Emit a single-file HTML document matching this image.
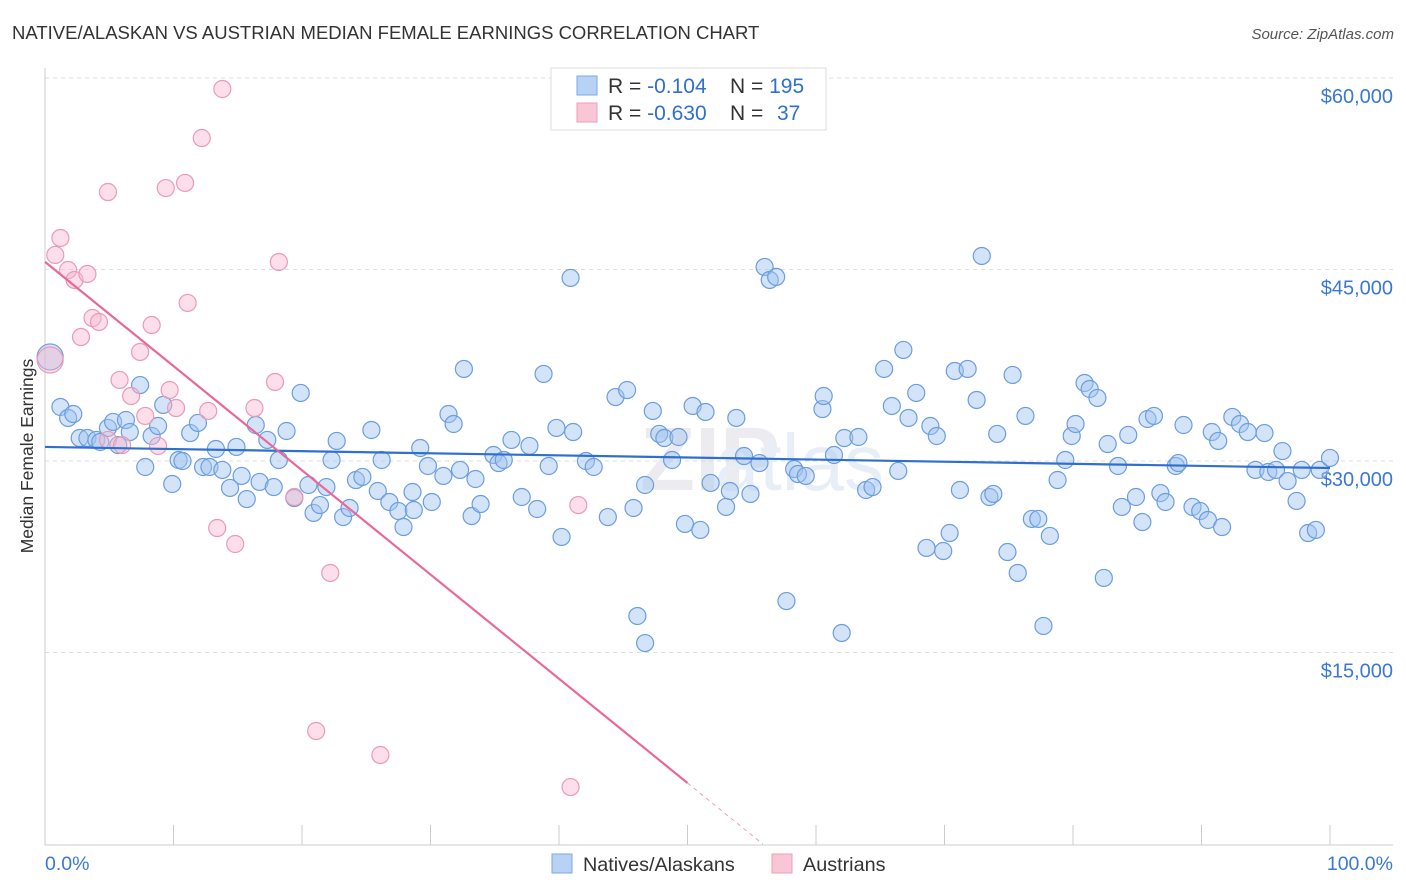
<!DOCTYPE html>
<html><head><meta charset="utf-8">
<style>
body{margin:0;background:#fff;font-family:"Liberation Sans",sans-serif;}
#wrap{position:relative;width:1406px;height:892px;overflow:hidden;}
</style></head>
<body>
<div id="wrap">
<svg id="chart" width="1406" height="892">
  <text x="12" y="39" font-size="18.5" fill="#333">NATIVE/ALASKAN VS AUSTRIAN MEDIAN FEMALE EARNINGS CORRELATION CHART</text>
  <text x="1394" y="39" font-size="15" fill="#555" font-style="italic" text-anchor="end">Source: ZipAtlas.com</text>
  <text x="33" y="456" font-size="17.5" fill="#333" text-anchor="middle" transform="rotate(-90 33 456)">Median Female Earnings</text>
  <text x="640" y="490" font-size="90" fill="#ececf0" font-weight="bold">ZIP</text>
  <text x="715" y="490" font-size="80" fill="#e8eef7">atlas</text>
  <g id="grid"></g><g id="axes"></g><g id="pts"></g><g id="trends"></g>
  <g>
    <rect x="551" y="68" width="275" height="62" fill="#fff" stroke="#ddd"/>
    <rect x="577" y="76" width="20" height="19" fill="#b8d2f5" stroke="#7aaae8"/>
    <rect x="577" y="103" width="20" height="19" fill="#f9c6d6" stroke="#ee9cb8"/>
    <text x="608" y="93" font-size="21" fill="#333">R = <tspan fill="#2f6fd0">-0.104</tspan><tspan x="730">N = </tspan><tspan fill="#2f6fd0">195</tspan></text>
    <text x="608" y="120" font-size="21" fill="#333">R = <tspan fill="#2f6fd0">-0.630</tspan><tspan x="730">N = </tspan><tspan fill="#2f6fd0" x="777">37</tspan></text>
  </g>
  <g>
    <rect x="552" y="854" width="20" height="19" fill="#b8d2f5" stroke="#7aaae8"/>
    <text x="583" y="871" font-size="19.8" fill="#333">Natives/Alaskans</text>
    <rect x="772" y="854" width="20" height="19" fill="#f9c6d6" stroke="#ee9cb8"/>
    <text x="803" y="871" font-size="19.8" fill="#333">Austrians</text>
  </g>
</svg>
</div>
<script>
const yTicks=[15000,30000,45000,60000];
const yTickLabels=["$15,000","$30,000","$45,000","$60,000"];
const xTickLabels=["0.0%","100.0%"];
const blueX=[0.4,1.2,1.8,2.2,2.7,3.3,4.0,4.3,4.9,5.3,5.7,6.3,6.6,7.4,7.8,8.3,8.8,9.2,9.9,10.4,10.7,11.3,11.9,12.3,12.8,13.3,13.8,14.4,14.9,15.3,15.7,16.4,16.7,17.3,17.8,18.2,18.8,19.4,19.9,20.5,20.9,21.4,21.9,22.3,22.7,23.2,23.7,24.2,24.7,25.4,25.9,26.2,26.8,27.5,27.9,28.6,28.7,29.2,29.8,30.1,31.0,31.4,31.8,32.3,32.6,33.2,33.5,33.9,34.9,35.3,35.7,36.3,37.1,37.7,38.3,38.8,39.2,39.8,40.2,40.9,41.1,42.1,42.7,43.8,44.4,45.3,45.8,46.1,46.7,46.7,47.3,47.8,48.2,48.8,49.3,49.8,50.4,51.0,51.4,51.8,53.0,53.3,53.8,54.4,54.9,55.6,56.0,56.4,56.9,57.7,58.3,58.6,59.2,60.5,60.6,61.4,62.0,62.2,63.3,63.9,64.4,65.3,65.9,66.4,66.8,67.2,67.8,68.6,68.9,69.4,69.9,70.4,70.8,71.2,71.8,72.5,72.9,73.5,73.8,74.1,74.9,75.3,75.7,76.3,76.8,77.3,77.7,78.2,78.8,79.4,79.9,80.2,80.9,81.3,81.9,82.4,82.7,83.5,83.8,84.3,84.9,85.4,85.8,86.3,86.8,87.2,88.0,88.2,88.6,89.3,89.9,90.5,90.8,91.3,91.6,92.4,93.0,93.6,94.2,94.9,95.2,95.8,96.3,96.7,97.4,97.8,98.3,98.9,99.2,100];
const blueY=[38150,34230,33370,33680,31800,31800,31650,31490,32590,33060,31250,33210,32270,35950,29530,31960,32740,34390,28200,30080,30000,32190,32980,29530,29530,30940,29300,27890,31100,28830,27020,32820,28360,31650,27960,30080,32350,27100,35330,28120,25930,26550,27960,30080,31570,25610,26320,28510,28750,32430,27650,30080,26790,26080,24830,27570,26160,31020,29610,26790,28830,33680,32900,29300,37210,25690,28590,26630,30470,29840,30080,31650,27180,31180,26240,36820,29610,32590,24050,44340,32270,30000,29530,25610,35010,35560,26320,17860,28120,15740,33920,32120,31800,30080,31880,25070,34310,24600,33840,28280,26400,27650,33370,30390,27420,29840,45200,44180,44420,19030,29370,28980,28830,34070,35090,30470,16530,31800,31880,27730,27960,37210,34310,29220,38700,33370,35330,23190,32740,31960,22950,24360,37050,27730,37210,34780,46060,27180,27420,32120,22870,36740,21230,33530,25460,25460,17080,24130,28510,30080,31960,32900,36110,35640,34940,20840,31330,29610,26400,32040,27180,25220,33290,33530,27490,26790,29610,29840,32820,26400,26080,25380,32270,31570,24830,33450,32900,32270,29300,32190,29140,29300,30780,28430,26870,29300,24360,24600,29300,30240];
const pinkX=[0.8,1.2,1.8,2.3,3.3,3.7,4.2,2.8,5.8,4.9,6.0,6.7,7.4,7.8,8.3,8.8,9.4,9.7,10.2,10.9,11.1,12.2,12.7,13.4,13.8,14.8,16.3,17.9,18.2,19.4,21.1,22.2,26.1,40.9,41.5,4.9,0.4];
const pinkY=[46140,47470,44960,44180,44650,41200,40890,39710,36350,31650,31250,35090,38540,33530,40650,31180,51380,35560,34150,51780,42380,55300,33920,24750,59140,23500,34150,36190,45590,27180,8850,21230,6970,4460,26550,51070,37910];
const blueTrend=[31100,29450];
const pinkTrend=[45600,4780];

const L=45,R=1330,T=78,B=844;
const xs=v=>L+(R-L)*v/100;
const ys=v=>B-(B-T)*v/60000;
const NS="http://www.w3.org/2000/svg";
function mk(tag,attrs,parent){const e=document.createElementNS(NS,tag);for(const k in attrs)e.setAttribute(k,attrs[k]);parent.appendChild(e);return e;}
const grid=document.getElementById('grid'),axes=document.getElementById('axes'),pts=document.getElementById('pts'),tr=document.getElementById('trends');
yTicks.forEach((t,i)=>{
  const g=mk('line',{x1:L,x2:1393,y1:ys(t),y2:ys(t),stroke:'#ddd','stroke-dasharray':'4,4'},grid);
  
  
  const lb=mk('text',{x:1393,y:ys(t)+25,'font-size':20,fill:'#3a78d8','text-anchor':'end'},axes);
  lb.textContent=yTickLabels[i];
  
  
});
const ax=mk('line',{x1:L,x2:1393,y1:B+1,y2:B+1,stroke:'#ccc'},axes);


const ay=mk('line',{x1:L,x2:L,y1:68,y2:B+1,stroke:'#ccc'},axes);


for(let i=1;i<=10;i++){
  const tk=mk('line',{x1:xs(i*10),x2:xs(i*10),y1:825,y2:B+1,stroke:'#ccc'},axes);
  
  
}
[[0,'start',45],[100,'end',1393]].forEach((d,i)=>{
  const t=mk('text',{x:d[2],y:870,'font-size':19.5,fill:'#3a78d8','text-anchor':d[1]},axes);
  t.textContent=xTickLabels[i];
  
  
});
blueX.forEach((x,i)=>{
  const c=mk('circle',{cx:xs(x),cy:ys(blueY[i]),r:i===0?13:8.5,fill:'rgba(160,195,240,0.45)',stroke:'#6b9de0','stroke-width':1.2},pts);
  
  
});
pinkX.forEach((x,i)=>{
  const c=mk('circle',{cx:xs(x),cy:ys(pinkY[i]),r:i===pinkX.length-1?13:8.5,fill:'rgba(248,185,205,0.45)',stroke:'#eb9ab6','stroke-width':1.2},pts);
  
  
});
const bl=mk('line',{x1:xs(0),y1:ys(blueTrend[0]),x2:xs(100),y2:ys(blueTrend[1]),stroke:'#2f6fd0','stroke-width':2.2},tr);


const slope=(pinkTrend[1]-pinkTrend[0])/50;
const pl=mk('line',{x1:xs(0),y1:ys(pinkTrend[0]),x2:xs(50),y2:ys(pinkTrend[1]),stroke:'#e8689a','stroke-width':2.2},tr);


const xEnd=-pinkTrend[0]/slope;
const pd=mk('line',{x1:xs(50),y1:ys(pinkTrend[1]),x2:xs(xEnd),y2:ys(0),stroke:'#e8a0bb','stroke-width':1,'stroke-dasharray':'4,4'},tr);


</script>
</body></html>
